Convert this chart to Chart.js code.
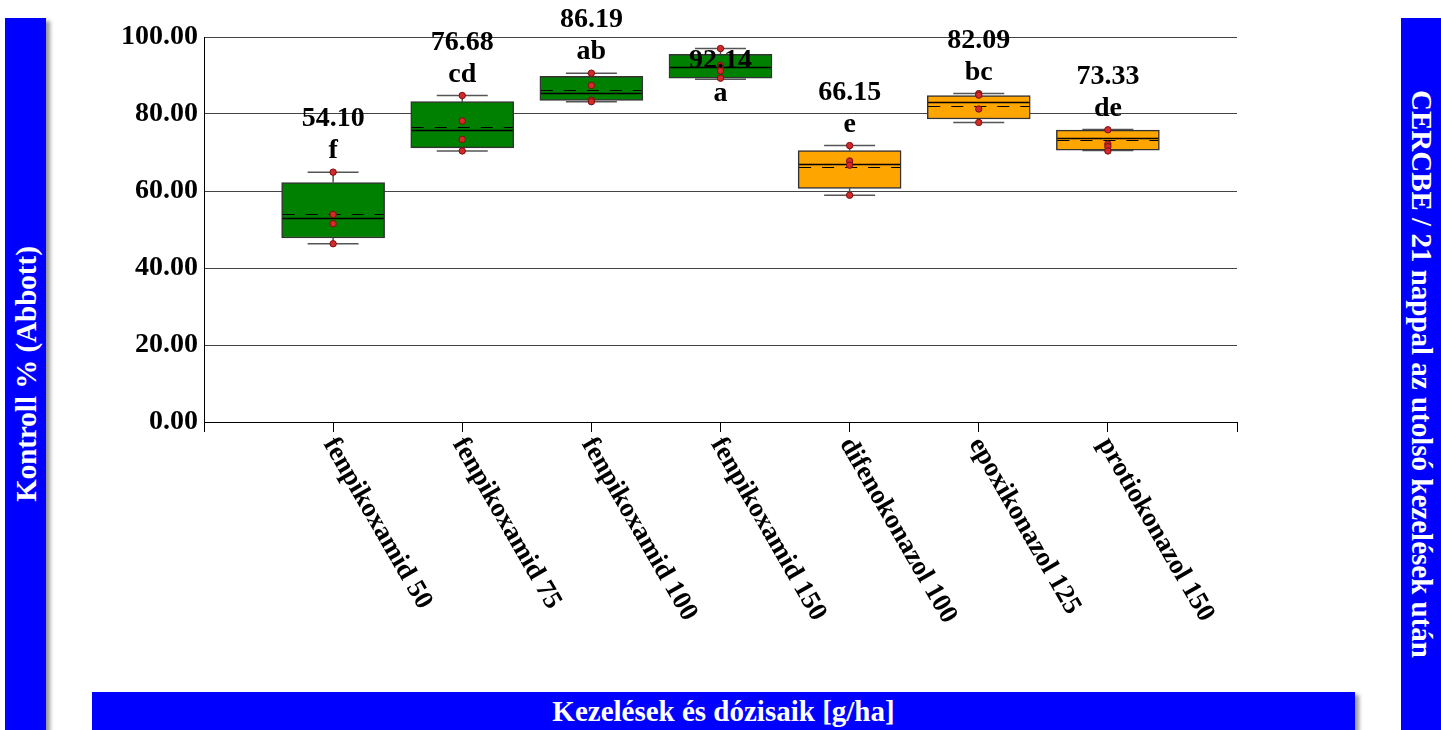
<!DOCTYPE html>
<html>
<head>
<meta charset="utf-8">
<script src="https://cdn.jsdelivr.net/npm/chart.js@4.4.1/dist/chart.umd.min.js"></script>
<style>
  html, body { margin: 0; padding: 0; background: #fff; }
  #wrap { position: relative; width: 1441px; height: 730px; overflow: hidden; }
  canvas { position: absolute; left: 0; top: 0; }
  .panel { position: absolute; background: #0000ff; color: #fff; font-family: "Liberation Serif", "Times New Roman", serif; font-weight: bold; font-size: 29px; }
  #leftPanel { left: 5px; top: 18px; width: 41px; height: 730px; box-shadow: 4px 3px 4px #999; }
  #rightPanel { left: 1401px; top: 18px; width: 40px; height: 730px; }
  #bottomPanel { left: 92px; top: 692px; width: 1263px; height: 45px; box-shadow: 4px 3px 4px #999; }
  .vtext { position: absolute; white-space: nowrap; left: 50%; top: 356px; }
  #leftPanel .vtext { transform: translate(-50%, -50%) rotate(-90deg); }
  #rightPanel .vtext { transform: translate(-50%, -50%) rotate(90deg); }
  #bottomPanel .htext { position: absolute; left: 0; right: 0; top: 3px; text-align: center; white-space: nowrap; }
</style>
</head>
<body>
<div id="wrap">
  <div class="panel" id="leftPanel"><div class="vtext">Kontroll % (Abbott)</div></div>
  <div class="panel" id="rightPanel"><div class="vtext">CERCBE / 21 nappal az utolsó kezelések után</div></div>
  <div class="panel" id="bottomPanel"><div class="htext">Kezelések és dózisaik [g/ha]</div></div>
  <canvas id="c" width="1441" height="730"></canvas>
</div>
<script>
// ---- data ----
const categories = ['fenpikoxamid 50', 'fenpikoxamid 75', 'fenpikoxamid 100', 'fenpikoxamid 150', 'difenokonazol 100', 'epoxikonazol 125', 'protiokonazol 150'];
const groups = ['fenpikoxamid', 'fenpikoxamid', 'fenpikoxamid', 'fenpikoxamid', 'standard', 'standard', 'standard'];
const q1 = [47.8, 71.2, 83.5, 89.3, 60.7, 78.7, 70.6];
const q3 = [62.2, 83.2, 89.8, 95.5, 70.5, 84.8, 75.8];
const medians = [52.9, 75.8, 85.4, 92.1, 66.9, 83.0, 73.8];
const means = [54.10, 76.68, 86.19, 92.14, 66.15, 82.09, 73.33];
const whiskerLow = [46.3, 70.4, 83.2, 89.0, 58.9, 77.8, 70.5];
const whiskerHigh = [64.9, 84.8, 90.6, 97.0, 71.8, 85.3, 76.0];
const observations = [
  [64.9, 53.9, 51.5, 46.3],
  [84.8, 78.2, 73.4, 70.4],
  [90.6, 87.4, 83.6, 83.2],
  [97.0, 92.6, 91.2, 89.3],
  [71.8, 67.8, 66.7, 58.9],
  [85.3, 84.9, 81.3, 77.8],
  [75.9, 72.2, 71.5, 70.4]
];
const groupLetters = ['f', 'cd', 'ab', 'a', 'e', 'bc', 'de'];
const yTicks = [0, 20, 40, 60, 80, 100];

// ---- styling ----
const palette = { fenpikoxamid: '#008000', standard: '#FFA500' };
const FONT = '"Liberation Serif", "Times New Roman", serif';
const BOX_W = 103, CAP_W = 51;

const boxData = categories.map((c, i) => ({ x: i + 1, y: [q1[i], q3[i]] }));
const pointData = [];
observations.forEach((arr, i) => arr.forEach(v => pointData.push({ x: i + 1, y: v })));

const boxPlugin = {
  id: 'boxExtras',
  beforeDatasetsDraw(chart) {
    const { ctx, scales: { x, y } } = chart;
    ctx.save();
    ctx.strokeStyle = '#555';
    ctx.lineWidth = 1.5;
    categories.forEach((c, i) => {
      const px = x.getPixelForValue(i + 1);
      const hi = y.getPixelForValue(whiskerHigh[i]);
      const lo = y.getPixelForValue(whiskerLow[i]);
      ctx.beginPath();
      ctx.moveTo(px, y.getPixelForValue(q3[i])); ctx.lineTo(px, hi);
      ctx.moveTo(px, y.getPixelForValue(q1[i])); ctx.lineTo(px, lo);
      ctx.moveTo(px - CAP_W / 2, hi); ctx.lineTo(px + CAP_W / 2, hi);
      ctx.moveTo(px - CAP_W / 2, lo); ctx.lineTo(px + CAP_W / 2, lo);
      ctx.stroke();
    });
    ctx.restore();
  },
  afterDatasetDraw(chart, args) {
    if (args.index !== 0) return;
    const { ctx, scales: { x, y } } = chart;
    ctx.save();
    ctx.strokeStyle = '#000';
    categories.forEach((c, i) => {
      const px = x.getPixelForValue(i + 1);
      const l = px - BOX_W / 2 + 1, r = px + BOX_W / 2 - 1;
      const my = Math.round(y.getPixelForValue(medians[i])) + 0.5;
      ctx.setLineDash([]);
      ctx.lineWidth = 1.5;
      ctx.beginPath(); ctx.moveTo(l, my); ctx.lineTo(r, my); ctx.stroke();
      const mn = Math.round(y.getPixelForValue(means[i])) + 0.5;
      ctx.setLineDash([12, 11]);
      ctx.lineWidth = 1.2;
      ctx.beginPath(); ctx.moveTo(l, mn); ctx.lineTo(r, mn); ctx.stroke();
    });
    ctx.restore();
  },
  afterDraw(chart) {
    const { ctx, scales: { x, y }, chartArea } = chart;
    ctx.save();
    ctx.fillStyle = '#000';
    ctx.font = 'bold 28px ' + FONT;
    ctx.textAlign = 'center';
    ctx.textBaseline = 'middle';
    categories.forEach((c, i) => {
      const px = x.getPixelForValue(i + 1);
      const hi = y.getPixelForValue(whiskerHigh[i]);
      if (whiskerHigh[i] > 95) {
        ctx.fillText(means[i].toFixed(2), px, y.getPixelForValue(means[i]) - 6);
        ctx.fillText(groupLetters[i], px, y.getPixelForValue(whiskerLow[i]) + 14);
      } else {
        ctx.fillText(means[i].toFixed(2), px, hi - 53);
        ctx.fillText(groupLetters[i], px, hi - 21);
      }
    });
    // rotated category labels
    ctx.font = 'bold 27px ' + FONT;
    ctx.textAlign = 'left';
    ctx.textBaseline = 'middle';
    categories.forEach((c, i) => {
      const px = x.getPixelForValue(i + 1);
      ctx.save();
      ctx.translate(px - 4, chartArea.bottom + 18);
      ctx.rotate(60 * Math.PI / 180);
      ctx.fillText(c, 0, 0);
      ctx.restore();
    });
    ctx.restore();
  }
};

new Chart(document.getElementById('c'), {
  type: 'scatter',
  data: {
    datasets: [
      {
        type: 'bar',
        data: boxData,
        backgroundColor: groups.map(g => palette[g]),
        borderColor: '#333',
        borderWidth: 1.5,
        borderSkipped: false,
        barThickness: BOX_W,
        grouped: false,
        order: 2
      },
      {
        type: 'scatter',
        data: pointData,
        pointRadius: 3.2,
        pointBackgroundColor: '#d42a2a',
        pointBorderColor: '#7a1010',
        pointBorderWidth: 1,
        order: 1
      }
    ]
  },
  options: {
    responsive: false,
    animation: false,
    events: [],
    layout: { padding: { left: 0, top: 37, right: 204, bottom: 0 } },
    plugins: { legend: { display: false }, tooltip: { enabled: false } },
    scales: {
      x: {
        type: 'linear',
        min: 0, max: 8,
        offset: false,
        afterFit(scale) { scale.height = 308; },
        afterBuildTicks(scale) { scale.ticks = [0, 1, 2, 3, 4, 5, 6, 7, 8].map(v => ({ value: v })); },
        ticks: { display: false, stepSize: 1 },
        grid: { drawOnChartArea: false, drawTicks: true, tickLength: 10, color: '#000', offset: false },
        border: { display: true, color: '#000', width: 1 }
      },
      y: {
        type: 'linear',
        min: 0, max: 100,
        afterFit(scale) { scale.width = 204; },
        afterBuildTicks(scale) { scale.ticks = yTicks.map(v => ({ value: v })); },
        ticks: {
          padding: 6,
          color: '#000',
          font: { family: FONT, size: 28, weight: 'bold' },
          callback: v => Number(v).toFixed(2)
        },
        grid: { drawTicks: false, color: '#444', lineWidth: 1 },
        border: { display: true, color: '#000', width: 1 }
      }
    }
  },
  plugins: [boxPlugin]
});
</script>
</body>
</html>
